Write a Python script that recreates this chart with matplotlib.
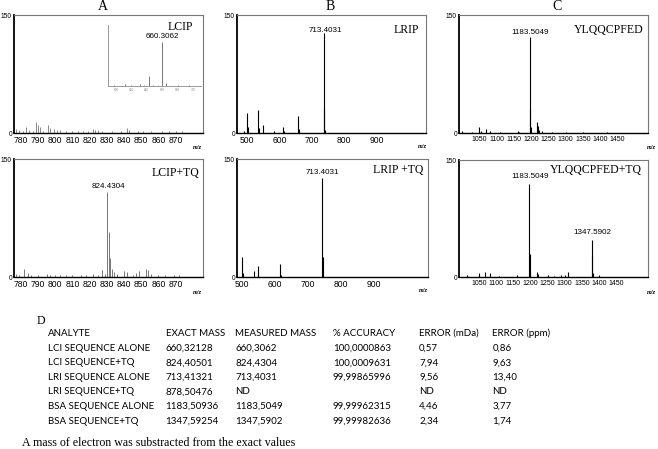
import numpy as np, matplotlib
matplotlib.use("Agg")
import matplotlib.pyplot as plt

W, H = 658, 449

# ---- spectra data (m/z, intensity) ----
a1_mz = [777, 779, 781, 783, 785, 787, 789, 790, 791, 793, 796, 797, 799, 801, 803, 806, 810,
         813, 816, 819, 822, 823, 825, 827, 833, 838, 842, 843, 848, 851, 856, 862, 866, 870, 874]
a1_int = [5, 4, 3, 8, 4, 3, 14, 10, 8, 3, 10, 6, 5, 4, 4, 3, 2,
          3, 2, 3, 5, 4, 4, 2, 3, 2, 6, 4, 2, 2, 2, 2, 2, 2, 2]
inset_mz = [598, 612, 620, 631, 636, 643, 648, 660.3, 665, 680, 695]
inset_int = [2, 3, 2, 4, 2, 16, 2, 72, 5, 2, 1]

a2_mz = [777, 779, 782, 784, 786, 790, 795, 797, 800, 803, 806, 810, 815, 818, 822, 825, 827, 829,
         830, 831, 832, 833, 834, 836, 840, 842, 845, 847, 849, 853, 854, 856, 860, 864, 869, 872]
a2_int = [4, 3, 10, 5, 3, 3, 4, 3, 3, 2, 2, 2, 3, 3, 4, 3, 9, 4,
          108, 57, 24, 10, 6, 4, 8, 6, 3, 5, 8, 10, 9, 4, 2, 3, 2, 2]

b1_mz = [491, 500, 502, 534, 536, 548, 582, 611, 613, 658, 660, 737, 738, 740]
b1_int = [3, 25, 8, 29, 6, 10, 2, 7, 2, 22, 5, 127, 30, 4]

b2_mz = [500, 502, 535, 547, 549, 615, 617, 743, 744, 746]
b2_int = [25, 5, 8, 14, 3, 17, 3, 126, 25, 3]

c1_mz = [1000, 1030, 1050, 1056, 1069, 1081, 1110, 1161, 1165, 1196, 1197, 1199,
         1217, 1219, 1222, 1230, 1260, 1300, 1350, 1420]
c1_int = [2, 1.5, 7, 2, 5, 3, 1, 3, 1.5, 122, 30, 8, 14, 9, 4, 2, 1, 1, 1, 1]

c2_mz = [1014, 1051, 1067, 1082, 1110, 1162, 1197, 1198, 1200, 1218, 1221, 1252, 1270,
         1288, 1300, 1309, 1380, 1381, 1383, 1401]
c2_int = [2, 5.5, 6, 5, 1, 3, 119, 30, 6, 7, 4, 3, 1.5, 2, 3, 7, 47, 28, 5, 3]

a_ticks = [780, 790, 800, 810, 820, 830, 840, 850, 860, 870]
b_ticks = [500, 600, 700, 800, 900]
c_ticks = [1050, 1100, 1150, 1200, 1250, 1300, 1350, 1400, 1450]

# ---- table D ----
col_header = ["ANALYTE", "EXACT MASS", "MEASURED MASS", "% ACCURACY", "ERROR (mDa)", "ERROR (ppm)"]
analytes = ["LCI SEQUENCE ALONE", "LCI SEQUENCE+TQ", "LRI SEQUENCE ALONE",
            "LRI SEQUENCE+TQ", "BSA SEQUENCE ALONE", "BSA SEQUENCE+TQ"]
exact_mass = ["660,32128", "824,40501", "713,41321", "878,50476", "1183,50936", "1347,59254"]
measured_mass = ["660,3062", "824,4304", "713,4031", "ND", "1183,5049", "1347,5902"]
accuracy = ["100,0000863", "100,0009631", "99,99865996", "", "99,99962315", "99,99982636"]
err_mda = ["0,57", "7,94", "9,56", "ND", "4,46", "2,34"]
err_ppm = ["0,86", "9,63", "13,40", "ND", "3,77", "1,74"]

SERIF = "Liberation Serif"
SANS = "Liberation Sans"


def px(x, y):
    return x / W, 1 - y / H


def make_ax(fig, l, t, r, b):
    ax = fig.add_axes([l / W, 1 - b / H, (r - l) / W, (b - t) / H])
    for s in ("top", "right"):
        ax.spines[s].set_color("#777777")
        ax.spines[s].set_linewidth(0.8)
    ax.spines["left"].set_linewidth(1.3)
    ax.spines["bottom"].set_linewidth(1.0)
    ax.set_ylim(0, 150)
    ax.set_yticks([0, 150])
    ax.set_yticklabels(["0", "150"], fontsize=4.8, family=SANS)
    ax.tick_params(axis="y", length=1, width=0.6, pad=0.5)
    ax.tick_params(axis="x", length=0, pad=2)
    return ax


def spectrum(ax, mz, inten, xlim, ticks, fs, color="black", lw=0.8):
    ax.vlines(mz, 0, inten, color=color, linewidth=lw)
    ax.set_xlim(*xlim)
    ax.set_xticks(ticks)
    ax.set_xticklabels([str(t) for t in ticks], fontsize=fs, family=SANS)


fig = plt.figure(figsize=(W / 100, H / 100), dpi=100)

# panel letters
for lab, x in (("A", 103), ("B", 330), ("C", 557)):
    fig.text(*px(x, 7), lab, fontsize=10, family=SERIF, ha="center", va="center")

# A top
ax = make_ax(fig, 14, 15, 203, 133)
spectrum(ax, a1_mz, a1_int, (776, 886), a_ticks, 6.2, color="#888888", lw=0.7)
ins = fig.add_axes([108 / W, 1 - 86 / H, 93 / W, 61 / H])
ins.vlines(inset_mz, 0, inset_int, color="#777777", linewidth=0.7)
ins.set_xlim(590, 710)
ins.set_ylim(0, 100)
ins.patch.set_alpha(0)
for s in ("top", "right"):
    ins.spines[s].set_visible(False)
for s in ("left", "bottom"):
    ins.spines[s].set_color("#999999")
    ins.spines[s].set_linewidth(0.7)
ins.set_yticks([])
ins.set_xticks([600, 620, 640, 660, 680, 700])
ins.set_xticklabels(["600", "620", "640", "660", "680", "700"], fontsize=2, color="#888888")
ins.tick_params(axis="x", length=0, pad=1.5)
fig.text(*px(180, 27), "LCIP", fontsize=8.5, family=SERIF, ha="center", va="center")
fig.text(*px(162, 37), "660.3062", fontsize=5.8, family=SANS, ha="center", va="center")

# A bottom
ax = make_ax(fig, 14, 159, 203, 277)
spectrum(ax, a2_mz, a2_int, (776, 886), a_ticks, 6.2, color="#777777", lw=0.7)
fig.text(*px(175, 173), "LCIP+TQ", fontsize=8.5, family=SERIF, ha="center", va="center")
fig.text(*px(108, 187), "824.4304", fontsize=5.8, family=SANS, ha="center", va="center")

# B top
ax = make_ax(fig, 237, 15, 426, 133)
spectrum(ax, b1_mz, b1_int, (468, 1053), b_ticks, 6.2)
fig.text(*px(406, 30), "LRIP", fontsize=8.5, family=SERIF, ha="center", va="center")
fig.text(*px(325, 30), "713.4031", fontsize=5.8, family=SANS, ha="center", va="center")

# B bottom
ax = make_ax(fig, 237, 159, 428, 277)
spectrum(ax, b2_mz, b2_int, (484, 1064), b_ticks, 6.2)
fig.text(*px(398, 170), "LRIP +TQ", fontsize=8.5, family=SERIF, ha="center", va="center")
fig.text(*px(322, 173), "713.4031", fontsize=5.8, family=SANS, ha="center", va="center")

# C top
ax = make_ax(fig, 459, 15, 648, 133)
spectrum(ax, c1_mz, c1_int, (991, 1538), c_ticks, 5.0)
fig.text(*px(609, 30), "YLQQCPFED", fontsize=8.5, family=SERIF, ha="center", va="center")
fig.text(*px(530, 33), "1183.5049", fontsize=5.8, family=SANS, ha="center", va="center")

# C bottom
ax = make_ax(fig, 459, 160, 648, 277)
spectrum(ax, c2_mz, c2_int, (992, 1543), c_ticks, 5.0)
fig.text(*px(596, 170), "YLQQCPFED+TQ", fontsize=8.5, family=SERIF, ha="center", va="center")
fig.text(*px(530, 177), "1183.5049", fontsize=5.8, family=SANS, ha="center", va="center")
fig.text(*px(592, 233), "1347.5902", fontsize=5.8, family=SANS, ha="center", va="center")

# m/z labels
for x, y in ((197, 148), (422, 147), (651, 148), (197, 292), (423, 291), (651, 292)):
    fig.text(*px(x, y), "m/z", fontsize=4.5, family=SERIF, style="italic",
             weight="bold", ha="center", va="center")

# table D
fig.text(*px(37, 321), "D", fontsize=8.5, family=SERIF, ha="left", va="center")
col_x = [48, 165.5, 235.5, 333, 419, 492.5]
columns = [analytes, exact_mass, measured_mass, accuracy, err_mda, err_ppm]
y0, dy = 333.5, 14.6
for cx, head, vals in zip(col_x, col_header, columns):
    fig.text(*px(cx, y0), head, fontsize=7.0, family="Lato", ha="left", va="center")
    for i, v in enumerate(vals):
        fig.text(*px(cx, y0 + dy * (i + 1)), v, fontsize=7.0, family="Lato", ha="left", va="center")
fig.text(*px(22, 443), "A mass of electron was substracted from the exact values",
         fontsize=8.6, family=SERIF, ha="left", va="center")

fig.savefig("out.png", dpi=100)
